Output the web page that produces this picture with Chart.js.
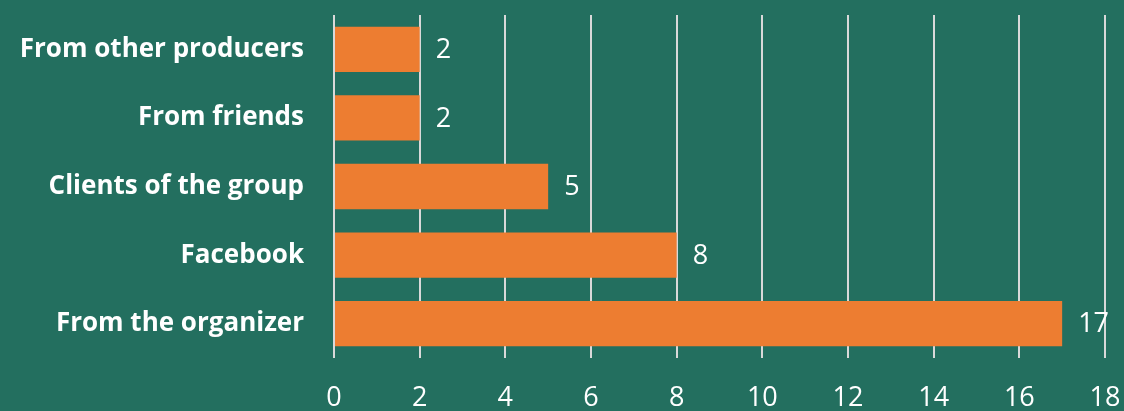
<!DOCTYPE html>
<html>
<head>
<meta charset="utf-8">
<script src="https://cdn.jsdelivr.net/npm/chart.js@4/dist/chart.umd.min.js"></script>
<style>
  html, body { margin: 0; padding: 0; background: #236F5F; }
  #wrap { width: 1124px; height: 411px; }
</style>
</head>
<body>
<div id="wrap"><canvas id="mychart"></canvas></div>
<script>
const categories = ['From other producers', 'From friends', 'Clients of the group', 'Facebook', 'From the organizer']
const counts = [2, 2, 5, 8, 17]
const xMin = 0
const xMax = 18
const xStep = 2

// draws the number right of each bar
const valueLabels = {
    id: 'valueLabels',
    afterDatasetsDraw(chart) {
        const ctx = chart.ctx
        const meta = chart.getDatasetMeta(0)
        ctx.save()
        ctx.fillStyle = '#ffffff'
        ctx.font = '27px "Open Sans", "Liberation Sans", sans-serif'
        ctx.textAlign = 'left'
        ctx.textBaseline = 'middle'
        meta.data.forEach((bar, i) => {
            ctx.fillText(String(counts[i]), bar.x + 16, bar.y + 1)
        })
        ctx.restore()
    }
}

const ctx = document.getElementById('mychart').getContext('2d')
const mychart = new Chart(ctx, {
    type: 'bar',
    data: {
        labels: categories,
        datasets: [{
            data: counts,
            backgroundColor: '#ED7D31',
            borderWidth: 0,
            categoryPercentage: 1,
            barPercentage: 0.66
        }]
    },
    plugins: [valueLabels],
    options: {
        indexAxis: 'y',
        responsive: true,
        maintainAspectRatio: false,
        animation: false,
        layout: { padding: { top: 15, right: 19, left: 0, bottom: 0 } },
        scales: {
            x: {
                min: xMin,
                max: xMax,
                ticks: {
                    stepSize: xStep,
                    color: '#ffffff',
                    padding: 24,
                    font: { family: '"Open Sans", "Liberation Sans", sans-serif', size: 27 }
                },
                grid: { color: '#d9d9d9', lineWidth: 2, drawTicks: false },
                border: { display: false },
                afterFit: s => {
                    s.height = 53
                    s.paddingLeft = 0
                    s.paddingRight = 0
                }
            },
            y: {
                ticks: {
                    color: '#ffffff',
                    padding: 22,
                    font: { family: '"Open Sans", "Liberation Sans", sans-serif', size: 26, weight: 'bold' }
                },
                grid: { display: false },
                border: { display: false },
                afterFit: s => {
                    s.width = 334
                    s.paddingTop = 0
                    s.paddingBottom = 0
                }
            }
        },
        plugins: {
            legend: { display: false },
            tooltip: { enabled: false }
        }
    }
})
</script>
</body>
</html>
